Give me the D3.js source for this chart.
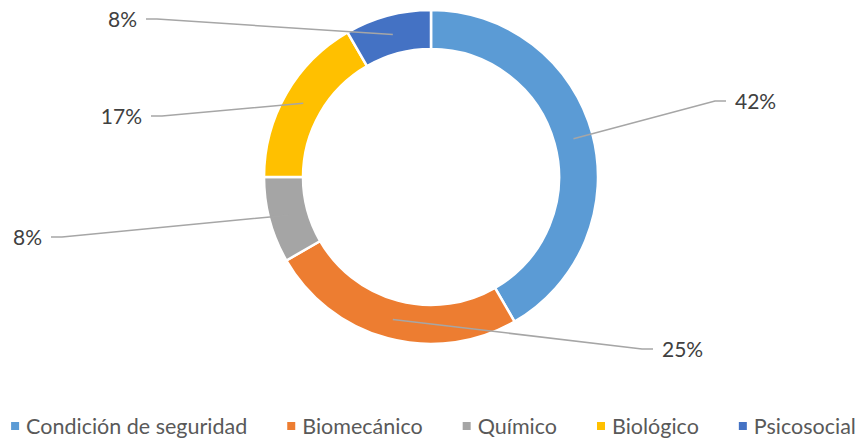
<!DOCTYPE html>
<html>
<head>
<meta charset="utf-8">
<script src="https://cdn.jsdelivr.net/npm/d3@7"></script>
<style>
  body { margin: 0; background: #fff; }
  #chart { width: 867px; height: 439px; }
</style>
</head>
<body>
<div id="chart"></div>
<script>
// data (shares out of 12)
var categories = ["Condición de seguridad", "Biomecánico", "Químico", "Biológico", "Psicosocial"];
var values = [5, 3, 1, 2, 1];
var labels = ["42%", "25%", "8%", "17%", "8%"];
var colors = ["#5B9BD5", "#ED7D31", "#A5A5A5", "#FFC000", "#4472C4"];

// elbow of each leader line (label layout), same order as categories
var labelElbows = [[715, 101], [642, 349], [62, 237], [162, 116], [157, 19]];

var width = 867, height = 439;
var cx = 431, cy = 177;
var outerRadius = 167, innerRadius = 128;

var svg = d3.select("#chart")
    .append("svg")
    .attr("width", width)
    .attr("height", height);

var pieData = d3.pie()
    .sort(null)
    .value(function (d) { return d; })
    (values);

var arc = d3.arc()
    .innerRadius(innerRadius)
    .outerRadius(outerRadius);

var g = svg.append("g")
    .attr("transform", "translate(" + cx + "," + cy + ")");

g.selectAll("path.slice")
    .data(pieData)
    .enter()
    .append("path")
    .attr("class", "slice")
    .attr("d", arc)
    .attr("fill", function (d, i) { return colors[i]; })
    .attr("stroke", "#fff")
    .attr("stroke-width", 2.5);

// leader lines + labels
pieData.forEach(function (d, i) {
    var c = arc.centroid(d);
    var start = [cx + c[0], cy + c[1]];
    var elbow = labelElbows[i];
    var right = elbow[0] > cx;
    var end = [elbow[0] + (right ? 11 : -11), elbow[1]];

    svg.append("path")
        .attr("d", d3.line()([start, elbow, end]))
        .attr("fill", "none")
        .attr("stroke", "#A6A6A6")
        .attr("stroke-width", 1.5);

    svg.append("text")
        .attr("x", end[0] + (right ? 9 : -9))
        .attr("y", end[1] + 1)
        .attr("dy", "0.35em")
        .attr("text-anchor", right ? "start" : "end")
        .style("font-family", "Lato, 'Liberation Sans', sans-serif")
        .style("font-size", "21px")
        .attr("fill", "#404040")
        .text(labels[i]);
});

// legend
var legend = svg.append("g");
var gap = 40;
var x = 0;
categories.forEach(function (name, i) {
    var item = legend.append("g").attr("transform", "translate(" + x + ",0)");
    item.append("rect")
        .attr("x", 0)
        .attr("y", -4)
        .attr("width", 8)
        .attr("height", 8)
        .attr("fill", colors[i]);
    var t = item.append("text")
        .attr("x", 15)
        .attr("y", 0)
        .attr("dy", "0.35em")
        .style("font-family", "Lato, 'Liberation Sans', sans-serif")
        .style("font-size", "21.5px")
        .attr("fill", "#595959")
        .text(name);
    x += 15 + t.node().getComputedTextLength() + gap;
});
var legendWidth = x - gap;
legend.attr("transform", "translate(" + ((width - legendWidth) / 2) + ",426)");
</script>
</body>
</html>
